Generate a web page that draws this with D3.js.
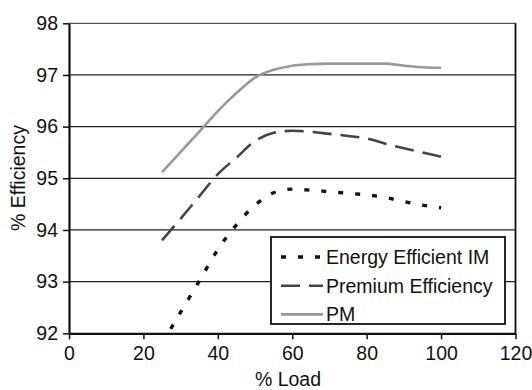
<!DOCTYPE html>
<html>
<head>
<meta charset="utf-8">
<script src="https://cdn.jsdelivr.net/npm/d3@7"></script>
<style>
  body { margin: 0; background: #fff; }
  svg text { font-family: "Liberation Sans", Arial, sans-serif; fill: #111; }
</style>
</head>
<body>
<svg id="chart"></svg>
<script>
const loads = [25, 30, 35, 40, 45, 50, 55, 60, 65, 70, 75, 80, 85, 90, 95, 100];
const energyIM = [91.8, 92.41, 93.01, 93.62, 94.1, 94.48, 94.72, 94.79, 94.77, 94.74, 94.71, 94.68, 94.63, 94.55, 94.48, 94.43];
const premium = [93.8, 94.22, 94.65, 95.08, 95.4, 95.72, 95.88, 95.92, 95.9, 95.86, 95.82, 95.77, 95.67, 95.58, 95.5, 95.42];
const pm = [95.12, 95.51, 95.9, 96.3, 96.65, 96.95, 97.1, 97.18, 97.21, 97.22, 97.22, 97.22, 97.22, 97.18, 97.15, 97.14];
const seriesNames = ["Energy Efficient IM", "Premium Efficiency", "PM"];
const xTicks = [0, 20, 40, 60, 80, 100, 120];
const yTicks = [92, 93, 94, 95, 96, 97, 98];

const W = 532, H = 390;
const margin = {top: 23.3, right: 16.5, bottom: 56.7, left: 69};
const w = W - margin.left - margin.right;
const h = H - margin.top - margin.bottom;
const fs = "19.5px";

const svg = d3.select("#chart").attr("width", W).attr("height", H);
const g = svg.append("g").attr("transform", `translate(${margin.left},${margin.top})`);

const x = d3.scaleLinear().domain([0, 120]).range([0, w]);
const y = d3.scaleLinear().domain([92, 98]).range([h, 0]);

// gridlines
g.selectAll(".grid").data(yTicks.slice(1)).enter().append("line")
  .attr("x1", 0).attr("x2", w)
  .attr("y1", d => y(d)).attr("y2", d => y(d))
  .attr("stroke", d => d === 98 ? "#555" : "#222")
  .attr("stroke-width", 1.2);

// right border
g.append("line").attr("x1", w).attr("x2", w).attr("y1", 0).attr("y2", h)
  .attr("stroke", "#111").attr("stroke-width", 1.8);

const styles = [
  {data: energyIM, color: "#111", width: 3.4, dash: "5,12"},
  {data: premium, color: "#444", width: 2.6, dash: "19,9"},
  {data: pm, color: "#999", width: 2.6, dash: null}
];

g.append("clipPath").attr("id", "clip").append("rect")
  .attr("x", 0).attr("y", 0).attr("width", w).attr("height", h);

const line = d3.line().x(d => x(d[0])).y(d => y(d[1])).curve(d3.curveMonotoneX);

styles.forEach(s => {
  g.append("path")
    .attr("clip-path", "url(#clip)")
    .attr("d", line(loads.map((l, i) => [l, s.data[i]])))
    .attr("fill", "none")
    .attr("stroke", s.color)
    .attr("stroke-width", s.width)
    .attr("stroke-dasharray", s.dash);
});

// axes
const xAxis = g.append("g").attr("transform", `translate(0,${h})`)
  .call(d3.axisBottom(x).tickValues(xTicks).tickFormat(d3.format("d"))
    .tickSize(6).tickPadding(7).tickSizeOuter(0));
const yAxis = g.append("g")
  .call(d3.axisLeft(y).tickValues(yTicks).tickFormat(d3.format("d"))
    .tickSize(6).tickPadding(5).tickSizeOuter(0));
[xAxis, yAxis].forEach(a => {
  a.select(".domain").attr("stroke", "#111").attr("stroke-width", 2.2);
  a.selectAll(".tick line").attr("stroke", "#111").attr("stroke-width", 1.5);
  a.selectAll("text").style("font-size", fs).attr("fill", "#111");
});

svg.append("text")
  .attr("transform", `translate(25,178) rotate(-90)`)
  .attr("text-anchor", "middle")
  .style("font-size", fs)
  .text("% Efficiency");

svg.append("text")
  .attr("x", 288).attr("y", 386)
  .attr("text-anchor", "middle")
  .style("font-size", fs)
  .text("% Load");

// legend
const legend = svg.append("g").attr("transform", "translate(271,237)");
legend.append("rect").attr("width", 234).attr("height", 87)
  .attr("fill", "#fff").attr("stroke", "#111").attr("stroke-width", 1.8);
seriesNames.forEach((name, i) => {
  const ly = 20 + i * 28.7;
  legend.append("line")
    .attr("x1", 10).attr("x2", 52).attr("y1", ly).attr("y2", ly)
    .attr("stroke", styles[i].color)
    .attr("stroke-width", styles[i].width)
    .attr("stroke-dasharray", styles[i].dash);
  legend.append("text")
    .attr("x", 55).attr("y", ly).attr("dy", "0.35em")
    .style("font-size", fs)
    .text(name);
});
</script>
</body>
</html>
